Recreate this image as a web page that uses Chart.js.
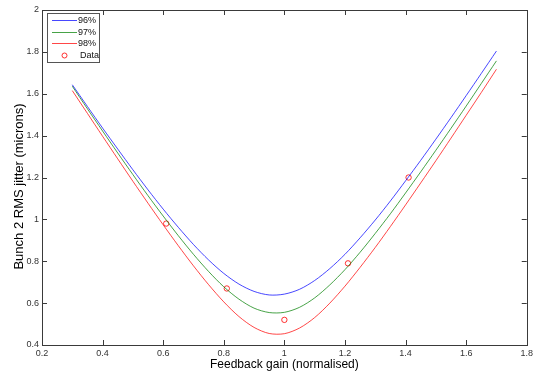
<!DOCTYPE html>
<html>
<head>
<meta charset="utf-8">
<script src="https://cdn.jsdelivr.net/npm/chart.js@4.4.0/dist/chart.umd.min.js"></script>
<style>
html, body { margin: 0; padding: 0; background: #fff; }
</style>
</head>
<body>
<canvas id="myChart" width="536" height="372"></canvas>
<script>
// fitted curves
var gain = [0.30, 0.35, 0.40, 0.45, 0.50, 0.55, 0.60, 0.65, 0.70, 0.75, 0.80, 0.85, 0.90, 0.95, 1.00,
            1.05, 1.10, 1.15, 1.20, 1.25, 1.30, 1.35, 1.40, 1.45, 1.50, 1.55, 1.60, 1.65, 1.70];
var fit96 = [1.643, 1.539, 1.436, 1.336, 1.237, 1.141, 1.049, 0.962, 0.880, 0.806, 0.742, 0.691, 0.656, 0.639, 0.643,
             0.666, 0.708, 0.765, 0.833, 0.912, 0.997, 1.088, 1.184, 1.282, 1.383, 1.486, 1.591, 1.697, 1.804];
var fit97 = [1.636, 1.528, 1.422, 1.317, 1.214, 1.113, 1.016, 0.922, 0.833, 0.751, 0.678, 0.619, 0.576, 0.555, 0.556,
             0.580, 0.625, 0.687, 0.760, 0.843, 0.933, 1.027, 1.126, 1.227, 1.330, 1.435, 1.541, 1.649, 1.757];
var fit98 = [1.615, 1.506, 1.397, 1.289, 1.182, 1.077, 0.974, 0.874, 0.778, 0.688, 0.606, 0.536, 0.484, 0.455, 0.454,
             0.481, 0.531, 0.600, 0.681, 0.771, 0.866, 0.966, 1.069, 1.174, 1.280, 1.388, 1.497, 1.606, 1.717];

// measured points
var measGain = [0.61, 0.81, 1.00, 1.21, 1.41];
var measJitter = [0.98, 0.67, 0.52, 0.79, 1.20];

var xTicks = [0.2, 0.4, 0.6, 0.8, 1, 1.2, 1.4, 1.6, 1.8];
var yTicks = [0.4, 0.6, 0.8, 1, 1.2, 1.4, 1.6, 1.8, 2];

var yTitle = 'Bunch 2 RMS jitter (microns)';

var FONT = '"Liberation Sans", Arial, sans-serif';

function pts(xs, ys) {
    return xs.map(function (x, i) { return { x: x, y: ys[i] }; });
}

function curve(label, color, ys) {
    return {
        label: label,
        data: pts(gain, ys),
        showLine: true,
        borderColor: color,
        borderWidth: 1,
        pointRadius: 0,
        tension: 0.3,
        fill: false
    };
}

// box round the axes, with inward ticks on every side, plus the y title
var boxPlugin = {
    id: 'box',
    afterDraw: function (chart) {
        var ctx = chart.ctx, a = chart.chartArea;
        var xs = chart.scales.x, ys = chart.scales.y;
        ctx.save();
        ctx.strokeStyle = '#3a3a3a';
        ctx.lineWidth = 1;
        ctx.strokeRect(Math.round(a.left) + 0.5, Math.round(a.top) + 0.5,
            Math.round(a.right - a.left), Math.round(a.bottom - a.top));
        ctx.beginPath();
        xTicks.forEach(function (v) {
            var px = Math.round(xs.getPixelForValue(v)) + 0.5;
            ctx.moveTo(px, a.bottom); ctx.lineTo(px, a.bottom - 5);
            ctx.moveTo(px, a.top); ctx.lineTo(px, a.top + 5);
        });
        yTicks.forEach(function (v) {
            var py = Math.round(ys.getPixelForValue(v)) + 0.5;
            ctx.moveTo(a.left, py); ctx.lineTo(a.left + 5, py);
            ctx.moveTo(a.right, py); ctx.lineTo(a.right - 5, py);
        });
        ctx.stroke();

        // y title sits a little below the middle of the axis, as in the original
        ctx.translate(19.5, (a.top + a.bottom) / 2 + 9);
        ctx.rotate(-Math.PI / 2);
        ctx.font = '13px ' + FONT;
        ctx.fillStyle = '#000';
        ctx.textAlign = 'center';
        ctx.textBaseline = 'middle';
        ctx.fillText(yTitle, 0, 0);
        ctx.restore();
    }
};

// matlab style legend in the upper left corner
var legendPlugin = {
    id: 'boxLegend',
    afterDraw: function (chart) {
        var ctx = chart.ctx, a = chart.chartArea;
        var x0 = a.left + 5, y0 = a.top + 3, w = 52, h = 49;
        ctx.save();
        ctx.fillStyle = '#fff';
        ctx.fillRect(x0, y0, w, h);
        ctx.strokeStyle = '#555';
        ctx.lineWidth = 1;
        ctx.strokeRect(Math.round(x0) + 0.5, Math.round(y0) + 0.5, w, h);
        ctx.font = '9px ' + FONT;
        ctx.textBaseline = 'middle';
        ctx.fillStyle = '#111';
        chart.data.datasets.forEach(function (ds, i) {
            var ry = Math.round(y0 + 7 + i * 11.7) + 0.5;
            ctx.strokeStyle = ds.borderColor;
            ctx.beginPath();
            if (ds.showLine) {
                ctx.moveTo(x0 + 5, ry); ctx.lineTo(x0 + 30, ry);
                ctx.stroke();
                ctx.fillText(ds.label, x0 + 31, ry);
            } else {
                ctx.arc(x0 + 17.5, ry, 2.5, 0, Math.PI * 2);
                ctx.stroke();
                ctx.fillText(ds.label, x0 + 33, ry);
            }
        });
        ctx.restore();
    }
};

var ctx = document.getElementById('myChart').getContext('2d');
var chart = new Chart(ctx, {
    type: 'scatter',
    data: {
        datasets: [
            curve('96%', 'rgba(0,0,255,0.72)', fit96),
            curve('97%', 'rgba(0,128,0,0.72)', fit97),
            curve('98%', 'rgba(255,0,0,0.72)', fit98),
            {
                label: 'Data',
                data: pts(measGain, measJitter),
                showLine: false,
                pointStyle: 'circle',
                pointRadius: 2.7,
                borderWidth: 1,
                borderColor: 'rgba(255,0,0,0.8)',
                backgroundColor: 'rgba(0,0,0,0)'
            }
        ]
    },
    options: {
        responsive: false,
        animation: false,
        devicePixelRatio: 1,
        layout: { padding: { top: 10, right: 7, left: 0, bottom: 0 } },
        plugins: { legend: { display: false }, tooltip: { enabled: false } },
        scales: {
            x: {
                type: 'linear',
                min: 0.2,
                max: 1.8,
                afterBuildTicks: function (s) { s.ticks = xTicks.map(function (v) { return { value: v }; }); },
                afterFit: function (s) { s.height = 27; },
                grid: { display: false, drawTicks: false },
                border: { display: false },
                ticks: {
                    autoSkip: false, maxRotation: 0, padding: 3,
                    color: '#333', font: { size: 9, family: FONT },
                    callback: function (v) { return String(v); }
                },
                title: {
                    display: true, text: 'Feedback gain (normalised)',
                    color: '#000', font: { size: 12, family: FONT },
                    padding: { top: 0, bottom: 0 }
                }
            },
            y: {
                type: 'linear',
                min: 0.4,
                max: 2,
                afterBuildTicks: function (s) { s.ticks = yTicks.map(function (v) { return { value: v }; }); },
                afterFit: function (s) { s.width = 42; },
                grid: { display: false, drawTicks: false },
                border: { display: false },
                ticks: {
                    autoSkip: false, padding: 3,
                    color: '#333', font: { size: 9, family: FONT },
                    callback: function (v) { return String(v); }
                },
                title: { display: false }
            }
        }
    },
    plugins: [boxPlugin, legendPlugin]
});
</script>
</body>
</html>
